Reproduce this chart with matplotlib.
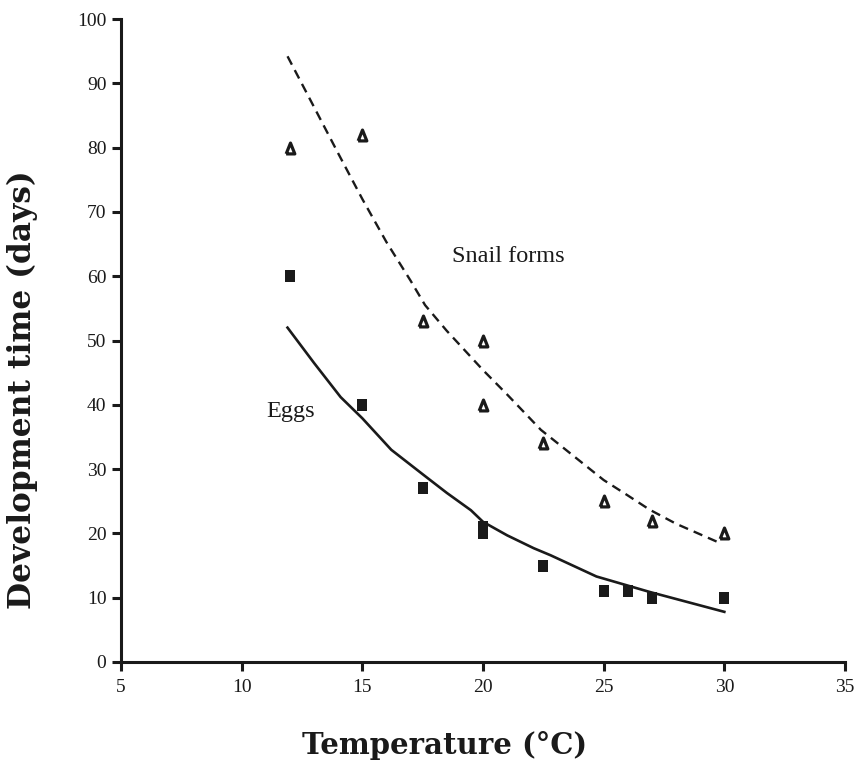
import matplotlib
matplotlib.use("Agg")
import matplotlib.pyplot as plt

# Observed data points
egg_temp = [12, 15, 17.5, 20, 20, 22.5, 25, 26, 27, 30]
egg_days = [60, 40, 27, 21, 20, 15, 11, 11, 10, 10]
snail_temp = [12, 15, 17.5, 20, 20, 22.5, 25, 27, 30]
snail_days = [80, 82, 53, 50, 40, 34, 25, 22, 20]

# Fitted curves
egg_fit_temp = [11.9, 13, 14.1, 15, 16.2, 17.5, 18.5, 19.5, 20, 21, 22.1, 22.8, 24.7, 26.9, 28.2, 30]
egg_fit_days = [52.0, 46.5, 41.2, 37.9, 33.0, 29.2, 26.3, 23.6, 21.8, 19.7, 17.7, 16.6, 13.3, 10.9, 9.6, 7.8]
snail_fit_temp = [11.9, 13, 14, 15, 16, 17, 17.6, 18.5, 20, 21, 22.4, 23.5, 25, 26, 26.9, 28, 29.7]
snail_fit_days = [94.2, 86.3, 79.1, 72.0, 65.3, 59.3, 55.5, 51.5, 45.4, 41.6, 36.1, 32.8, 28.3, 25.9, 23.7, 21.5, 18.7]

xticks = [5, 10, 15, 20, 25, 30, 35]
yticks = [0, 10, 20, 30, 40, 50, 60, 70, 80, 90, 100]

ink = '#1a1a1a'
fig = plt.figure(figsize=(8.62, 7.75), dpi=100)
ax = fig.add_axes([121/862, 1-662/775, (845-121)/862, (662-19)/775])

ax.plot(egg_fit_temp, egg_fit_days, color=ink, lw=1.9)
ax.plot(snail_fit_temp, snail_fit_days, color=ink, lw=1.7, dashes=(4, 2.6))

rect = [(-0.4, -0.5), (0.4, -0.5), (0.4, 0.5), (-0.4, 0.5), (-0.4, -0.5)]
tri = [(-0.4, -0.5), (0.4, -0.5), (0, 0.5), (-0.4, -0.5)]
ax.plot(egg_temp, egg_days, linestyle='none', marker=rect, markersize=8.5,
        color=ink, markeredgewidth=0)
ax.plot(snail_temp, snail_days, linestyle='none', marker=tri, markersize=7.8,
        markerfacecolor='white', markeredgecolor=ink, markeredgewidth=2.3)

ax.text(18.7, 63, 'Snail forms', family='Liberation Serif', fontsize=17.5,
        ha='left', va='center', color=ink)
ax.text(11.0, 39, 'Eggs', family='Liberation Serif', fontsize=17.5,
        ha='left', va='center', color=ink)

ax.set_xlim(5, 35)
ax.set_ylim(0, 100)
ax.set_xticks(xticks)
ax.set_yticks(yticks)
ax.set_xticklabels([str(t) for t in xticks])
ax.set_yticklabels([str(t) for t in yticks])
for s in ['top', 'right']:
    ax.spines[s].set_visible(False)
for s in ['left', 'bottom']:
    ax.spines[s].set_linewidth(2.2)
    ax.spines[s].set_color(ink)
ax.tick_params(axis='both', direction='out', length=6.5, width=2.2, color=ink,
               labelsize=14, labelcolor=ink)
ax.tick_params(axis='x', pad=6)
ax.tick_params(axis='y', pad=4)
for lab in ax.get_xticklabels() + ax.get_yticklabels():
    lab.set_family('Liberation Serif')

fig.text(22/862, 1-390/775, 'Development time (days)', rotation=90,
         family='DejaVu Serif', fontweight='bold', fontsize=22.5,
         ha='center', va='center', color=ink)
fig.text(445/862, 1-745/775, 'Temperature (°C)',
         family='DejaVu Serif', fontweight='bold', fontsize=21,
         ha='center', va='center', color=ink)

fig.savefig('out.png', dpi=100)
